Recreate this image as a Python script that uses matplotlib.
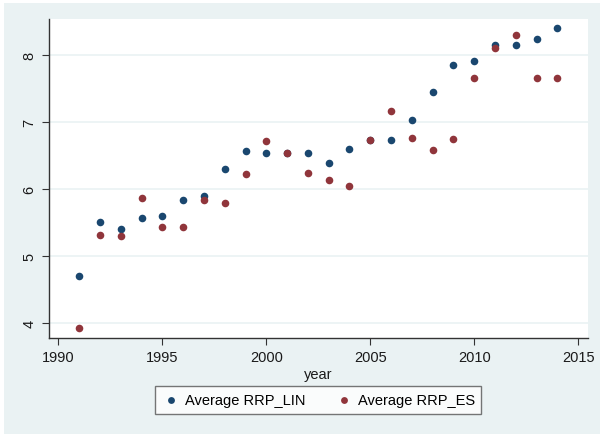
import matplotlib
matplotlib.use("Agg")
import matplotlib.pyplot as plt
from matplotlib.patches import Rectangle

years = list(range(1991, 2015))
rrp_lin = [4.70, 5.50, 5.40, 5.57, 5.60, 5.83, 5.90, 6.30, 6.57, 6.54, 6.53, 6.54,
           6.39, 6.59, 6.73, 6.73, 7.02, 7.44, 7.84, 7.91, 8.15, 8.15, 8.23, 8.40]
rrp_es = [3.93, 5.32, 5.30, 5.86, 5.43, 5.44, 5.84, 5.79, 6.22, 6.72, 6.53, 6.24,
          6.14, 6.05, 6.73, 7.16, 6.76, 6.58, 6.75, 7.65, 8.10, 8.29, 7.65, 7.65]
x_ticks = [1990, 1995, 2000, 2005, 2010, 2015]
y_ticks = [4, 5, 6, 7, 8]

plt.rcParams['font.family'] = ['Liberation Sans', 'DejaVu Sans']

W, H = 600, 435
fig = plt.figure(figsize=(W / 100, H / 100), dpi=100)
fig.patch.set_facecolor('white')
bg = '#eaf2f3'
fig.patches.append(Rectangle((4 / W, 0), 1 - 4 / W, 1 - 4 / H, transform=fig.transFigure,
                             facecolor=bg, edgecolor='none', zorder=-5))

ax = fig.add_axes([49 / W, 1 - 339 / H, (588 - 49) / W, (339 - 20) / H])
ax.set_zorder(2)
ax.set_facecolor('white')
ax.set_xlim(1989.55, 2015.47)
ax.set_ylim(3.78, 8.53)

for y in y_ticks:
    ax.axhline(y, color=bg, lw=1.2, zorder=1)

navy = '#1a476f'
maroon = '#90353b'
ax.scatter(years, rrp_lin, s=30, color=navy, zorder=3, label='Average RRP_LIN', linewidths=0)
ax.scatter(years, rrp_es, s=30, color=maroon, zorder=3, label='Average RRP_ES', linewidths=0)

ax.set_xticks(x_ticks)
ax.set_yticks(y_ticks)
ax.set_yticklabels([str(v) for v in y_ticks], rotation=90, va='center')
ax.tick_params(axis='both', labelsize=10.5, colors='#333333', labelcolor='#1a1a1a',
               length=5, width=0.8, direction='out', pad=4)
for s in ['top', 'right']:
    ax.spines[s].set_visible(False)
for s in ['left', 'bottom']:
    ax.spines[s].set_color('#333333')
    ax.spines[s].set_linewidth(1.0)

ax.set_xlabel('year', fontsize=10.5, color='#1a1a1a', labelpad=2)

leg = fig.legend(loc='center', bbox_to_anchor=((158 + 478) / 2 / W, 1 - 401 / H), ncol=2,
                 fontsize=10.5, frameon=True, fancybox=False, edgecolor='#555555',
                 handletextpad=0.2, handlelength=1.4, columnspacing=2.0, markerscale=0.9,
                 borderpad=0.45)
leg.get_frame().set_linewidth(1.0)
leg.set_zorder(5)

fig.savefig('out.png', dpi=100, facecolor='white')
